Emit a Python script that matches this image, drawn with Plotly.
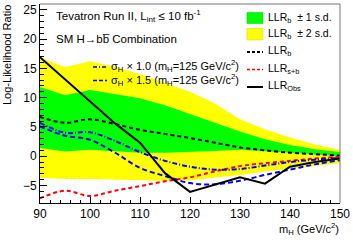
import plotly.graph_objects as go

mass = [90, 95, 100, 105, 110, 115, 120, 125, 130, 135, 140, 145, 150]
llr_b = [6.7, 5.7, 6.3, 5.5, 4.5, 3.8, 3.1, 2.3, 1.5, 1.0, 0.6, 0.35, 0.1]
llr_b_p1 = [11.8, 10.4, 11.3, 10.6, 9.9, 8.7, 7.2, 5.7, 4.2, 2.9, 1.9, 1.2, 0.7]
llr_b_m1 = [1.4, 0.8, 1.1, 0.8, 0.6, 0.6, 0.7, 0.9, 1.1, 0.9, 0.6, 0.3, 0.0]
llr_b_p2 = [16.9, 15.2, 16.2, 15.3, 14.0, 12.5, 11.0, 9.0, 6.3, 4.6, 3.2, 2.0, 1.1]
llr_b_m2 = [-3.7, -3.9, -3.9, -4.0, -4.1, -4.2, -4.1, -3.7, -3.2, -2.6, -2.1, -1.6, -1.2]
llr_sb = [-7.2, -5.9, -6.8, -5.9, -5.1, -4.3, -3.6, -2.6, -1.7, -1.2, -0.8, -0.4, -0.1]
sig_10 = [5.7, 4.0, 4.1, 2.6, 0.7, -0.8, -1.8, -2.3, -2.2, -1.6, -1.0, -0.6, -0.3]
sig_15 = [5.1, 3.5, 2.8, 0.6, -2.0, -3.4, -4.6, -4.8, -4.2, -3.2, -2.3, -1.4, -0.7]
llr_obs = [16.9, 13.1, 9.3, 5.6, 2.3, -2.9, -6.1, -4.9, -3.6, -4.7, -1.8, -1.0, -0.4]

W, H = 353, 241
L, R, T, B = 40, 340, 4, 203
FONT = "Liberation Sans, Arial, sans-serif"


def px(x):
    return (x - L) / (R - L)


def py(y):
    return (B - y) / (B - T)


fig = go.Figure()
# yellow band
fig.add_trace(go.Scatter(x=mass, y=llr_b_m2, mode="lines", line=dict(width=0, color="#ffff00"),
                         showlegend=False, hoverinfo="skip"))
fig.add_trace(go.Scatter(x=mass, y=llr_b_p2, mode="lines", line=dict(width=0, color="#ffff00"),
                         fill="tonexty", fillcolor="#ffff00", showlegend=False, hoverinfo="skip"))
# green band
fig.add_trace(go.Scatter(x=mass, y=llr_b_m1, mode="lines", line=dict(width=0, color="#00ff00"),
                         showlegend=False, hoverinfo="skip"))
fig.add_trace(go.Scatter(x=mass, y=llr_b_p1, mode="lines", line=dict(width=0, color="#00ff00"),
                         fill="tonexty", fillcolor="#00ff00", showlegend=False, hoverinfo="skip"))

fig.add_trace(go.Scatter(x=mass, y=llr_b, mode="lines", line=dict(color="black", width=2, dash="4px,3px", shape="spline"),
                         showlegend=False))
fig.add_trace(go.Scatter(x=mass, y=llr_sb, mode="lines", line=dict(color="#ff0000", width=2, dash="4px,3px", shape="spline"),
                         showlegend=False))
fig.add_trace(go.Scatter(x=mass, y=sig_10, mode="lines", line=dict(color="#0000ff", width=2, dash="5px,2px,1px,2px", shape="spline"),
                         showlegend=False))
fig.add_trace(go.Scatter(x=mass, y=sig_15, mode="lines", line=dict(color="#0000ff", width=2, dash="5px,3px", shape="spline"),
                         showlegend=False))
fig.add_trace(go.Scatter(x=mass, y=llr_obs, mode="lines", line=dict(color="black", width=2),
                         showlegend=False))

shapes = []
ann = []
# frame top / right
shapes.append(dict(type="line", xref="paper", yref="paper", x0=0, x1=1, y0=1, y1=1, line=dict(color="#777", width=1)))
shapes.append(dict(type="line", xref="paper", yref="paper", x0=1, x1=1, y0=0, y1=1, line=dict(color="#777", width=1)))

# legend on right
lx0, lx1 = 247, 263
shapes.append(dict(type="rect", xref="paper", yref="paper", x0=px(lx0), x1=px(lx1), y0=py(23.5), y1=py(12.5),
                   fillcolor="#00ff00", line=dict(width=0.5, color="#00cc00")))
shapes.append(dict(type="rect", xref="paper", yref="paper", x0=px(lx0), x1=px(lx1), y0=py(40), y1=py(28.5),
                   fillcolor="#ffff00", line=dict(width=0.5, color="#cccc00")))
shapes.append(dict(type="line", xref="paper", yref="paper", x0=px(lx0), x1=px(lx1), y0=py(52), y1=py(52),
                   line=dict(color="black", width=2, dash="3px,2px")))
shapes.append(dict(type="line", xref="paper", yref="paper", x0=px(lx0), x1=px(lx1), y0=py(69.5), y1=py(69.5),
                   line=dict(color="#ff0000", width=1.5, dash="3px,2px")))
shapes.append(dict(type="line", xref="paper", yref="paper", x0=px(lx0), x1=px(lx1), y0=py(87), y1=py(87),
                   line=dict(color="black", width=2)))
leg_txt = [("LLR<sub>b</sub>  ± 1 s.d.", 17.5), ("LLR<sub>b</sub>  ± 2 s.d.", 33.5),
           ("LLR<sub>b</sub>", 51.5), ("LLR<sub>s+b</sub>", 69), ("LLR<sub>Obs</sub>", 86.5)]
for t, yy in leg_txt:
    ann.append(dict(text=t, xref="paper", yref="paper", x=px(266), y=py(yy), xanchor="left", yanchor="middle",
                    showarrow=False, font=dict(size=10.5, color="black", family=FONT)))

# blue legend
shapes.append(dict(type="line", xref="paper", yref="paper", x0=px(93), x1=px(107), y0=py(67), y1=py(67),
                   line=dict(color="#0000ff", width=1.5, dash="4px,2px,1px,2px")))
shapes.append(dict(type="line", xref="paper", yref="paper", x0=px(93), x1=px(107), y0=py(80.5), y1=py(80.5),
                   line=dict(color="#0000ff", width=1.5, dash="4px,2px")))
ann.append(dict(text="σ<sub>H</sub> × 1.0 (m<sub>H</sub>=125 GeV/c<sup>2</sup>)", xref="paper", yref="paper",
                x=px(109), y=py(66), xanchor="left", yanchor="middle", showarrow=False,
                font=dict(size=11, color="black", family=FONT)))
ann.append(dict(text="σ<sub>H</sub> × 1.5 (m<sub>H</sub>=125 GeV/c<sup>2</sup>)", xref="paper", yref="paper",
                x=px(109), y=py(80), xanchor="left", yanchor="middle", showarrow=False,
                font=dict(size=11, color="black", family=FONT)))

# titles
ann.append(dict(text="Tevatron Run II, L<sub>int</sub> ≤ 10 fb<sup>-1</sup>", xref="paper", yref="paper",
                x=px(54), y=py(16), xanchor="left", yanchor="middle", showarrow=False,
                font=dict(size=11.5, color="black", family=FONT)))
ann.append(dict(text="SM H→bb\u0305 Combination", xref="paper", yref="paper",
                x=px(54), y=py(39), xanchor="left", yanchor="middle", showarrow=False,
                font=dict(size=11.5, color="black", family=FONT)))

# axis titles
ann.append(dict(text="m<sub>H</sub> (GeV/c<sup>2</sup>)", xref="paper", yref="paper",
                x=px(341), y=py(229), xanchor="right", yanchor="middle", showarrow=False,
                font=dict(size=11, color="black", family=FONT)))
ann.append(dict(text="Log-Likelihood Ratio", xref="paper", yref="paper", textangle=-90,
                x=px(7), y=py(3), xanchor="center", yanchor="top", showarrow=False,
                font=dict(size=11, color="black", family=FONT)))

fig.update_layout(
    width=W, height=H,
    margin=dict(l=L, r=W - R, t=T, b=H - B, pad=0),
    paper_bgcolor="white", plot_bgcolor="white",
    shapes=shapes, annotations=ann, showlegend=False,
    font=dict(family=FONT, color="black"),
    xaxis=dict(range=[90, 150], tickvals=[90, 100, 110, 120, 130, 140, 150], ticks="inside", ticklen=6,
               tickcolor="black", showgrid=False, zeroline=False, showline=True, linecolor="black", linewidth=1,
               tickfont=dict(size=12, family=FONT, color="black"),
               minor=dict(dtick=2, ticks="inside", ticklen=3, tickcolor="black", showgrid=False)),
    yaxis=dict(range=[-8, 26], tickvals=[-5, 0, 5, 10, 15, 20, 25], ticks="inside", ticklen=7,
               tickcolor="black", showgrid=False, zeroline=False, showline=True, linecolor="black", linewidth=1,
               tickfont=dict(size=12, family=FONT, color="black"),
               minor=dict(dtick=1, ticks="inside", ticklen=4, tickcolor="black", showgrid=False)),
)

fig.write_html("out.html", config={"displayModeBar": False, "staticPlot": True},
               post_script="document.body.style.margin='0';document.body.style.padding='0';document.body.style.overflow='hidden';")
